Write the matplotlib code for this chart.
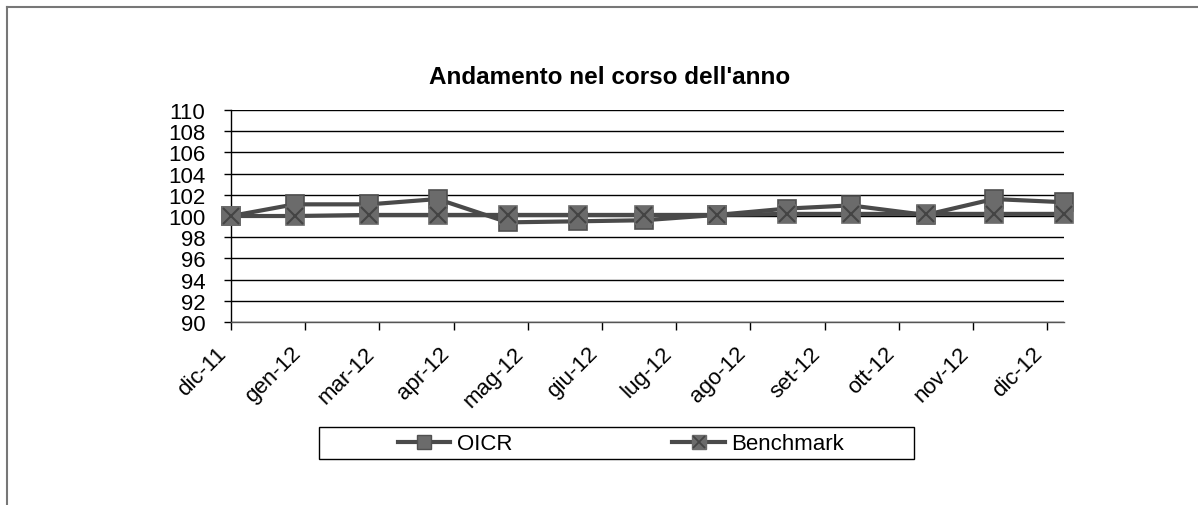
import matplotlib
matplotlib.use("Agg")
import matplotlib.pyplot as plt
import matplotlib.dates as mdates
from matplotlib.lines import Line2D
from matplotlib.patches import Rectangle
import numpy as np

plt.rcParams['font.family'] = ['Liberation Sans', 'DejaVu Sans']

# data
dates = ['2011-12-30', '2012-01-27', '2012-02-29', '2012-03-30', '2012-04-30',
         '2012-05-31', '2012-06-29', '2012-07-31', '2012-08-31', '2012-09-28',
         '2012-10-31', '2012-11-30', '2012-12-31']
oicr = [100.0, 101.1, 101.1, 101.6, 99.4, 99.5, 99.6, 100.1, 100.7, 101.0, 100.1, 101.6, 101.3]
benchmark = [100.0, 100.0, 100.1, 100.1, 100.1, 100.1, 100.1, 100.1, 100.2, 100.2, 100.2, 100.2, 100.2]
tick_labels = ['dic-11', 'gen-12', 'mar-12', 'apr-12', 'mag-12', 'giu-12',
               'lug-12', 'ago-12', 'set-12', 'ott-12', 'nov-12', 'dic-12']
series_names = ['OICR', 'Benchmark']
title = "Andamento nel corso dell'anno"

x = mdates.datestr2num(dates)

W, H = 1198, 506
fig = plt.figure(figsize=(W / 100, H / 100), dpi=100)
ax = fig.add_axes([231 / W, 1 - 323 / H, 833 / W, 212 / H])

line_col = '#4a4a4a'
fill_col = '#6b6b6b'
edge_col = '#505050'

ax.plot(x, oicr, color=line_col, lw=3, marker='s', ms=13,
        mfc=fill_col, mec=edge_col, mew=1.2, zorder=3, clip_on=False)
ax.plot(x, benchmark, color=line_col, lw=3, marker='s', ms=13,
        mfc=fill_col, mec=fill_col, mew=1.2, zorder=4, clip_on=False)
ax.plot(x, benchmark, ls='none', marker='x', ms=12, mew=1.5,
        color='#444444', zorder=5, clip_on=False)

ax.set_xlim(x[0], x[-1])
ax.set_ylim(90, 110)
ax.set_yticks(np.arange(90, 111, 2))
ax.yaxis.grid(True, color='black', lw=1)
ax.set_axisbelow(True)

# ticks evenly spaced like the original date axis
step = (x[-1] - x[0]) * 74.1 / 832
ax.set_xticks(x[0] + step * np.arange(len(tick_labels)))
ax.set_xticklabels(tick_labels, rotation=45, ha='right', va='bottom',
                   rotation_mode='anchor', fontsize=16)
ax.tick_params(axis='x', length=6, width=1, pad=19.5)
ax.tick_params(axis='y', length=5, width=1, labelsize=16, pad=13.5)

for s in ['top', 'right']:
    ax.spines[s].set_visible(False)
ax.spines['left'].set_linewidth(1)
ax.spines['bottom'].set_linewidth(1)
ax.spines['bottom'].set_color('#555555')

fig.text(610 / W, 1 - 77 / H, title, ha='center', va='center',
         fontsize=17.5, fontweight='bold')

# legend: proxies with smaller markers, frame drawn separately
p1 = Line2D([], [], color=line_col, lw=3, marker='s', ms=10,
            mfc=fill_col, mec=edge_col, mew=1)
p2 = Line2D([], [], color=line_col, lw=3, marker='s', ms=10,
            mfc=fill_col, mec=fill_col, mew=1)
p3 = Line2D([], [], ls='none', marker='x', ms=9, mew=1.3, color='#444444')
fig.legend([p1, (p2, p3)], series_names, ncol=2, loc='center left',
           bbox_to_anchor=(398 / W, 1 - 445 / H), frameon=False,
           fontsize=16, borderpad=0, borderaxespad=0,
           handlelength=2.35, handletextpad=0.3, columnspacing=7.2)
fig.add_artist(Rectangle((318.5 / W, 1 - 460 / H), 595.5 / W, 32 / H,
                         transform=fig.transFigure, fill=False,
                         edgecolor='black', lw=1))

# outer frame (top and left edges)
fig.add_artist(Line2D([7 / W, 1], [1 - 8 / H, 1 - 8 / H],
                      transform=fig.transFigure, color='#777777', lw=1.5))
fig.add_artist(Line2D([7 / W, 7 / W], [0, 1 - 8 / H],
                      transform=fig.transFigure, color='#777777', lw=1.5))

fig.savefig('out.png', dpi=100)
